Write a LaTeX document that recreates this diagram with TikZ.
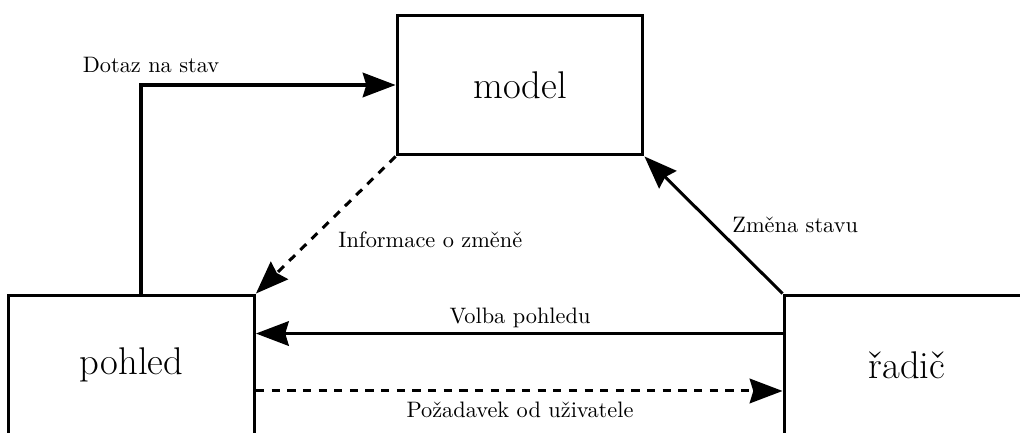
\documentclass[tikz,border=0pt]{standalone}
\usetikzlibrary{arrows.meta}
\begin{document}
\begin{tikzpicture}[x=0.4474pt, y=-0.4474pt,
    comp/.style={draw, line width=1.35pt, minimum width=110pt, minimum height=62.6pt,
                 inner sep=0pt, font=\LARGE},
    link/.style={line width=1.35pt, -{Stealth[length=14.7pt,width=11pt,inset=1.6pt]}},
    dashlink/.style={link, dash pattern=on 3.7pt off 3.3pt},
    lbl/.style={font=\normalsize, inner sep=0pt}]
  \useasboundingbox (0,0) rectangle (1020,433);
  \clip (0,0) rectangle (1020,433);

  % the three components
  \node[comp] (model)  at (520,85)  {model};
  \node[comp] (pohled) at (131.5,365) {pohled};
  \node[comp] (radic)  at (907,365) {řadič};

  % query from the view to the model
  \coordinate (q0) at ([xshift=4.25pt]pohled.north);
  \draw[link] (q0) |- (model.west);
  \node[lbl] (dotaz) at (151,65) {Dotaz na stav};

  % change notification
  \draw[dashlink] (model.south west) -- (pohled.north east);
  \node[lbl, anchor=west] (info) at (338,240) {Informace o změně};

  % state change from the controller
  \draw[link] (radic.north west) -- (model.south east);
  \node[lbl, anchor=west] (zmena) at (732,225) {Změna stavu};

  % view selection
  \coordinate (v1) at ([yshift=-17.9pt]radic.north west);
  \draw[link] (v1) -- (pohled.east |- v1);
  \node[lbl] (volba) at (520,318) {Volba pohledu};

  % user request
  \coordinate (p0) at ([yshift=-43.6pt]pohled.north east);
  \draw[dashlink] (p0) -- (radic.west |- p0);
  \node[lbl] (pozad) at (520,410) {Požadavek od uživatele};
\end{tikzpicture}
\end{document}
